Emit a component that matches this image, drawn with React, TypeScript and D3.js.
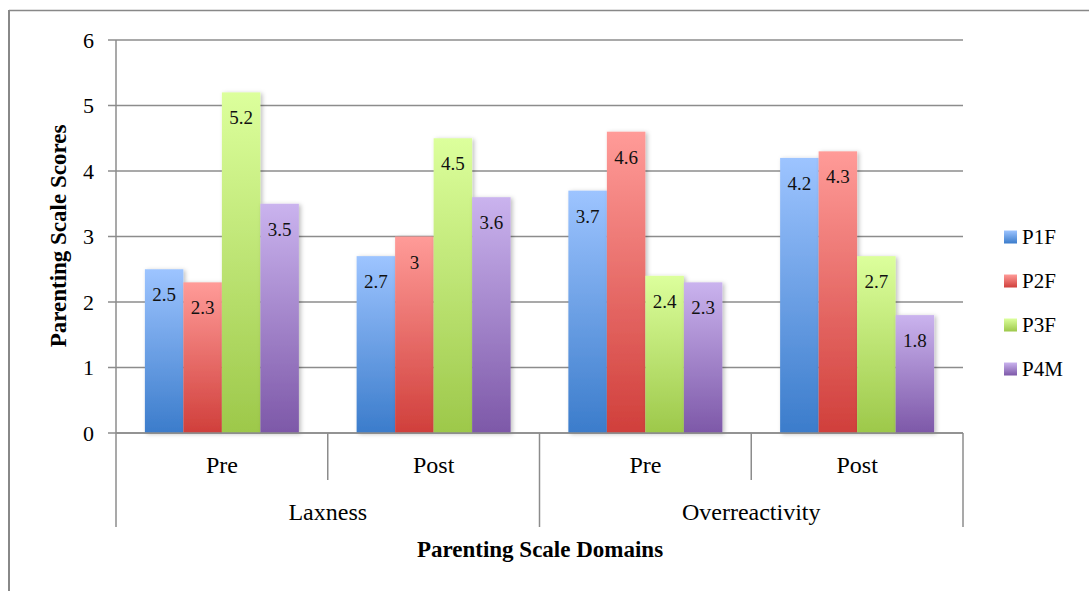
// Parenting scale grouped bar chart, serif typography (revision 7)
import * as d3 from "d3";
import React from "react";

const FONT = "Liberation Serif";

const domains = ["Laxness", "Overreactivity"];
const phases = ["Pre", "Post"];
const groups = ["Laxness-Pre", "Laxness-Post", "Overreactivity-Pre", "Overreactivity-Post"];
const seriesNames = ["P1F", "P2F", "P3F", "P4M"];
const P1F = [2.5, 2.7, 3.7, 4.2];
const P2F = [2.3, 3.0, 4.6, 4.3];
const P3F = [5.2, 4.5, 2.4, 2.7];
const P4M = [3.5, 3.6, 2.3, 1.8];
const yTicks = [0, 1, 2, 3, 4, 5, 6];

const seriesValues = [P1F, P2F, P3F, P4M];
const gradTop = ["#9dc4ff", "#ff9b98", "#dcff9c", "#cab3ee"];
const gradBottom = ["#3b7ccb", "#d03f3b", "#9dc84a", "#7d58a8"];

const W = 1089;
const H = 591;
const plotLeft = 116;
const plotRight = 963;
const plotTop = 40;
const plotBottom = 433;
const gridColor = "#8c8c8c";

export default function App() {
  const x0 = d3.scaleBand().domain(groups).range([plotLeft, plotRight]).paddingInner(0).paddingOuter(0);
  const bw = x0.bandwidth();
  const x1 = d3
    .scaleBand()
    .domain(seriesNames)
    .range([(bw * 0.75) / 5.5, bw - (bw * 0.75) / 5.5])
    .padding(0);
  const y = d3.scaleLinear().domain([0, 6]).range([plotBottom, plotTop]);

  const dividers = d3.range(groups.length + 1).map((i) => plotLeft + i * bw);
  const legendY = [237, 281, 325, 369];

  return (
    <svg width={W} height={H} style={{ display: "block", position: "absolute", left: 0, top: 0 }}>
      <defs>
        {seriesNames.map((s, i) => (
          <linearGradient key={s} id={`g${i}`} x1="0" y1="0" x2="0" y2="1">
            <stop offset="0" stopColor={gradTop[i]} />
            <stop offset="1" stopColor={gradBottom[i]} />
          </linearGradient>
        ))}
        <filter id="shadow" x="-20%" y="-10%" width="150%" height="130%">
          <feDropShadow dx="2" dy="1" stdDeviation="2" floodColor="#000" floodOpacity="0.25" />
        </filter>
      </defs>
      <rect x={0} y={0} width={W} height={H} fill="#fff" />
      <line x1={9} y1={10.5} x2={W} y2={10.5} stroke="#888" strokeWidth={1.5} />
      <line x1={9} y1={10} x2={9} y2={H} stroke="#888" strokeWidth={2} />

      {yTicks.map((t) => (
        <line key={t} x1={plotLeft - 8} x2={plotRight} y1={y(t)} y2={y(t)} stroke={gridColor} strokeWidth={1.5} />
      ))}
      <line x1={plotLeft} x2={plotLeft} y1={plotTop} y2={plotBottom} stroke={gridColor} strokeWidth={1.5} />
      {yTicks.map((t) => (
        <text key={t} x={94} y={y(t) + 7.5} textAnchor="end" style={{ fontFamily: FONT }} fontSize={22} fill="#000">
          {t}
        </text>
      ))}

      {groups.map((g, gi) => (
        <g key={g} transform={`translate(${x0(g)},0)`}>
          {seriesNames.map((s, si) => {
            const v = seriesValues[si][gi];
            return (
              <rect
                key={s}
                x={x1(s)}
                y={y(v)}
                width={x1.bandwidth()}
                height={plotBottom - y(v)}
                fill={`url(#g${si})`}
                filter="url(#shadow)"
              />
            );
          })}
          {seriesNames.map((s, si) => {
            const v = seriesValues[si][gi];
            return (
              <text
                key={s}
                x={(x1(s) as number) + x1.bandwidth() / 2}
                y={y(v) + 32}
                textAnchor="middle"
                style={{ fontFamily: FONT }}
                fontSize={19}
                fill="#111"
              >
                {String(v)}
              </text>
            );
          })}
        </g>
      ))}

      <line x1={plotLeft} x2={plotRight} y1={plotBottom} y2={plotBottom} stroke={gridColor} strokeWidth={1.5} />
      {dividers.map((d, i) => (
        <line
          key={i}
          x1={d}
          x2={d}
          y1={plotBottom}
          y2={i % 2 === 0 ? 527 : 480}
          stroke={gridColor}
          strokeWidth={1.5}
        />
      ))}
      {groups.map((g, gi) => (
        <text
          key={g}
          x={(x0(g) as number) + bw / 2}
          y={473}
          textAnchor="middle"
          style={{ fontFamily: FONT }}
          fontSize={24}
          fill="#000"
        >
          {phases[gi % 2]}
        </text>
      ))}
      {domains.map((d, di) => (
        <text
          key={d}
          x={plotLeft + bw * (2 * di + 1)}
          y={520}
          textAnchor="middle"
          style={{ fontFamily: FONT }}
          fontSize={24}
          fill="#000"
        >
          {d}
        </text>
      ))}

      <text x={540} y={557} textAnchor="middle" style={{ fontFamily: FONT }} fontSize={23} fontWeight="bold" fill="#000">
        Parenting Scale Domains
      </text>
      <text
        transform={`translate(66,236) rotate(-90)`}
        textAnchor="middle"
        style={{ fontFamily: FONT }}
        fontSize={23}
        fontWeight="bold"
        fill="#000"
      >
        Parenting Scale Scores
      </text>

      {seriesNames.map((s, i) => (
        <g key={s} transform={`translate(1004,${legendY[i]})`}>
          <rect x={0} y={-6.5} width={13} height={13} fill={`url(#g${i})`} />
          <text x={18} y={7} style={{ fontFamily: FONT }} fontSize={21} fill="#000">
            {s}
          </text>
        </g>
      ))}
    </svg>
  );
}
